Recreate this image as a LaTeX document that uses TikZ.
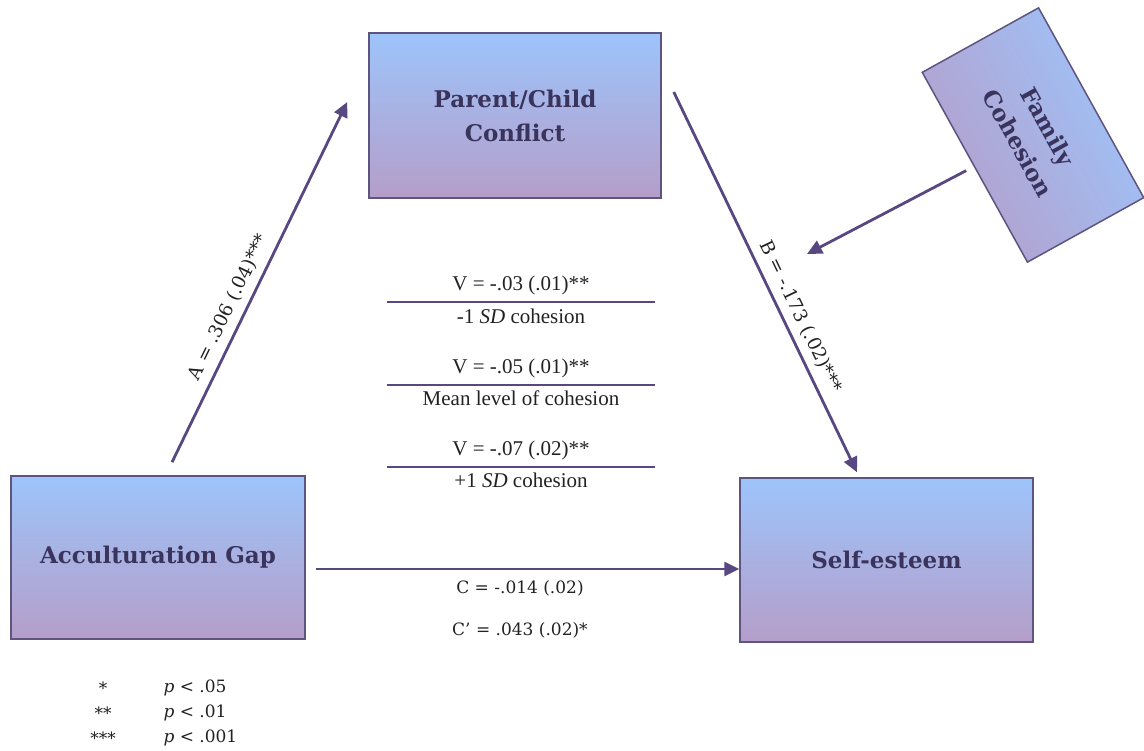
\documentclass[tikz,border=0pt]{standalone}
\usepackage{fontspec}
\setmainfont{Liberation Serif}
\newfontfamily\cambriafont{DejaVu Serif}
\usetikzlibrary{arrows.meta}
\definecolor{boxtop}{RGB}{157,196,251}
\definecolor{boxbot}{RGB}{181,158,201}
\definecolor{boxline}{RGB}{94,84,128}
\definecolor{arrowcol}{RGB}{88,72,130}
\definecolor{boxtext}{RGB}{58,52,92}
\definecolor{ink}{RGB}{34,34,34}
\begin{document}
\begin{tikzpicture}[x=1pt,y=-1pt,
    varbox/.style={draw=boxline, line width=1.5pt, top color=boxtop, bottom color=boxbot,
      text=boxtext, font=\cambriafont\bfseries\fontsize{23}{34}\selectfont,
      align=center, inner sep=0pt},
    effect/.style={draw=arrowcol, line width=2.8pt, -{Triangle[length=15pt,width=14pt]}},
    coef/.style={font=\cambriafont\fontsize{17}{20}\selectfont, text=ink},
    pathlab/.style={font=\cambriafont\fontsize{18.5}{22}\selectfont, text=ink,
      sloped, above=5pt, inner sep=2pt},
    rulebar/.style={draw=arrowcol, line width=2.6pt},
    vtext/.style={font=\fontsize{21}{24}\selectfont, text=ink}]
  \useasboundingbox (0,0) rectangle (1144,751);
  \draw
    (515,115.5) node[varbox, minimum width=292pt, minimum height=165pt] (par) {Parent/Child\\Conflict}
    (158,557.5) node[varbox, minimum width=294pt, minimum height=163pt] (acc) {Acculturation Gap}
    (886.5,560) node[varbox, minimum width=293pt, minimum height=164pt] (self) {Self-esteem}
    (1033,135) node[varbox, rotate=-61, shading angle=-61, minimum width=217pt, minimum height=133pt] (fam) {Family\\Cohesion};
  \coordinate (mod) at (807,254);
  \begin{scope}[effect]
    \draw ([shift={(14,-13)}]acc.north) to
      node[pathlab, pos=0.41] {A = .306 (.04)***}
      ([shift={(-21,-13.5)}]par.west);
    \draw ([shift={(12,-23.5)}]par.east) to
      node[pathlab, pos=0.61] {B = -.173 (.02)***}
      ([shift={(-29.5,-5)}]self.north);
    \draw ([shift={(-8,3)}]fam.south) to (mod);
    \draw ([shift={(10,11.5)}]acc.east) to ([shift={(0,9)}]self.west);
  \end{scope}
  % moderation by cohesion level
  \draw[rulebar] (387,302) -- (655,302);
  \draw[rulebar] (387,385) -- (655,385);
  \draw[rulebar] (387,467) -- (655,467);
  \node[vtext] (v1) at (521,285) {V = -.03 (.01)**};
  \node[vtext] (sd1) at (521,316) {-1 \textit{SD} cohesion};
  \node[vtext] (v2) at (521,368) {V = -.05 (.01)**};
  \node[vtext] (sd2) at (521,398) {Mean level of cohesion};
  \node[vtext] (v3) at (521,450) {V = -.07 (.02)**};
  \node[vtext] (sd3) at (521,480) {+1 \textit{SD} cohesion};
  \node[coef] (c) at (520,588) {C = -.014 (.02)};
  \node[coef] (cp) at (520,630) {C’ = .043 (.02)*};
  % legend
  \node[coef] (s1) at (103,688) {*};
  \node[coef] (s2) at (103,713) {**};
  \node[coef] (s3) at (103,738) {***};
  \node[coef, anchor=west] (p1) at (160,688) {\textit{p} < .05};
  \node[coef, anchor=west] (p2) at (160,713) {\textit{p} < .01};
  \node[coef, anchor=west] (p3) at (160,738) {\textit{p} < .001};
\end{tikzpicture}
\end{document}
